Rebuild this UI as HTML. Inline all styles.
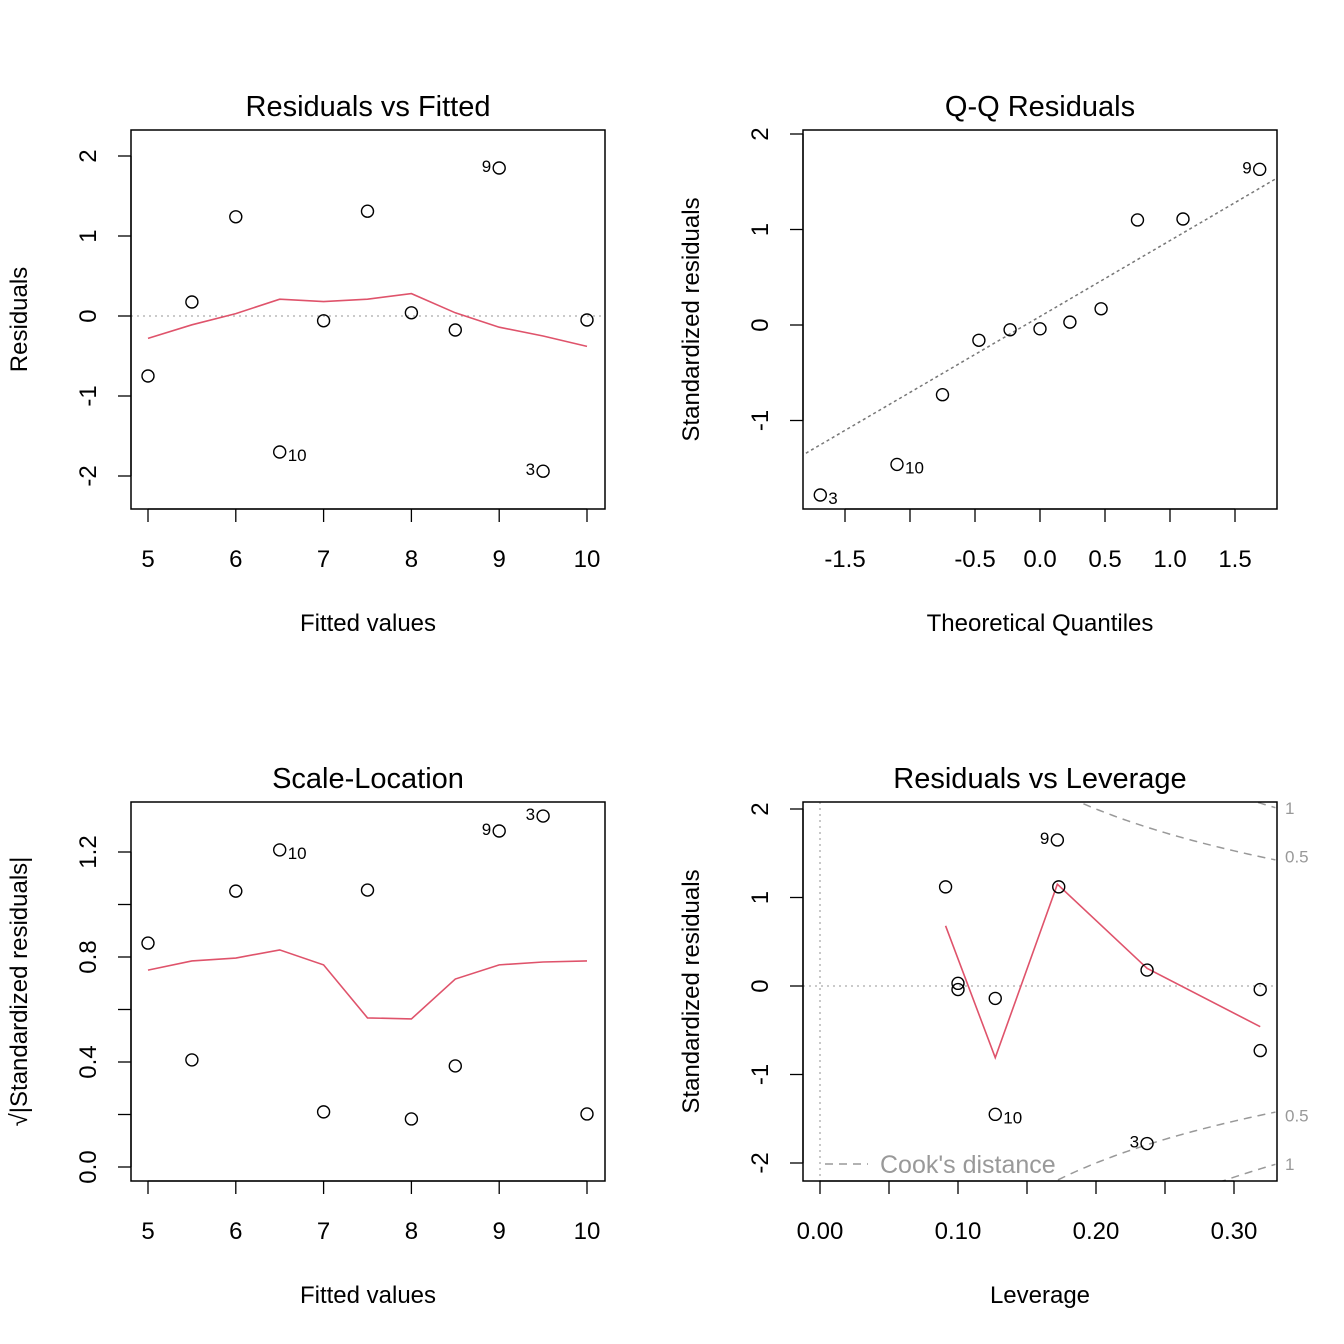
<!DOCTYPE html>
<html><head><meta charset="utf-8"><style>
html,body{margin:0;padding:0;background:#fff}
svg{display:block;font-family:"Liberation Sans",sans-serif}
</style></head><body>
<svg id="c" width="1344" height="1344" viewBox="0 0 1344 1344" xmlns="http://www.w3.org/2000/svg"></svg>
<script>
// Panel 1: Residuals vs Fitted
const fitted = [5,5.5,6,6.5,7,7.5,8,8.5,9,9.5,10];
const resid = [-0.75,0.175,1.24,-1.70,-0.06,1.31,0.04,-0.175,1.85,-1.94,-0.05];
const residLabels = ['','','','10','','','','','9','3',''];
const residSmooth = [-0.28,-0.11,0.03,0.21,0.18,0.21,0.28,0.04,-0.14,-0.25,-0.38];
// Panel 2: Q-Q
const theoQ = [-1.69,-1.10,-0.75,-0.47,-0.23,0,0.23,0.47,0.75,1.10,1.69];
const stdResSorted = [-1.78,-1.46,-0.73,-0.16,-0.05,-0.04,0.03,0.17,1.10,1.11,1.63];
const qqLabels = ['3','10','','','','','','','','','9'];
const qqLine = [0.795,0.089];
// Panel 3: Scale-Location
const sqrtStdRes = [0.853,0.408,1.051,1.208,0.21,1.055,0.183,0.385,1.28,1.337,0.202];
const slLabels = ['','','','10','','','','','9','3',''];
const slSmooth = [0.75,0.785,0.796,0.827,0.77,0.568,0.564,0.716,0.77,0.781,0.785];
// Panel 4: Residuals vs Leverage
const leverage = [0.091,0.100,0.100,0.127,0.127,0.172,0.173,0.237,0.237,0.319,0.319];
const levStdRes = [1.12,0.03,-0.04,-0.14,-1.45,1.65,1.12,0.18,-1.78,-0.04,-0.73];
const levLabels = ['','','','','10','9','','','3','',''];
const levSmoothX = [0.091,0.127,0.172,0.237,0.319];
const levSmoothY = [0.68,-0.81,1.15,0.20,-0.46];
const cookLevels = [0.5,1];

const NS='http://www.w3.org/2000/svg';
const svg=document.getElementById('c');
function el(tag,attrs,parent){const e=document.createElementNS(NS,tag);for(const k in attrs)e.setAttribute(k,attrs[k]);(parent||svg).appendChild(e);return e;}
function txt(s,x,y,attrs,parent){const e=el('text',Object.assign({x:x,y:y},attrs),parent);e.textContent=s;return e;}

function panel(o){
  const g=el('g',{});
  
  
  const X=v=>o.px0+(v-o.xv0)*o.xs, Y=v=>o.py0-(v-o.yv0)*o.ys;
  const cid='clip'+o.name;
  const cp=el('clipPath',{id:cid},g);el('rect',{x:o.L,y:o.T,width:o.R-o.L,height:o.B-o.T},cp);
  const inner=el('g',{'clip-path':'url(#'+cid+')'},g);
  o.X=X;o.Y=Y;o.inner=inner;o.g=g;
  if(o.pre)o.pre(o);
  const box=el('rect',{x:o.L,y:o.T,width:o.R-o.L,height:o.B-o.T,fill:'none',stroke:'#000','stroke-width':1.5},g);
  
  o.xt.forEach((t,i)=>{const x=X(t);el('line',{x1:x,x2:x,y1:o.B,y2:o.B+13,stroke:'#000','stroke-width':1.3},g);
    if(o.xl[i]!==''){const e=txt(o.xl[i],x,o.B+58,{'font-size':24,'text-anchor':'middle'},g);}});
  el('line',{x1:X(o.xt[0]),x2:X(o.xt[o.xt.length-1]),y1:o.B,y2:o.B,stroke:'#000','stroke-width':1.3},g);
  o.yt.forEach((t,i)=>{const y=Y(t);el('line',{x1:o.L,x2:o.L-13,y1:y,y2:y,stroke:'#000','stroke-width':1.3},g);
    if(o.yl[i]!==''){const e=txt(o.yl[i],o.L-35,y,{'font-size':24,'text-anchor':'middle',transform:'rotate(-90 '+(o.L-35)+' '+y+')'},g);}});
  el('line',{x1:o.L,x2:o.L,y1:Y(o.yt[0]),y2:Y(o.yt[o.yt.length-1]),stroke:'#000','stroke-width':1.3},g);
  const cx=(o.L+o.R)/2;
  const t1=txt(o.title,cx,o.T-14,{'font-size':29,'text-anchor':'middle'},g);
  const t2=txt(o.xtitle,cx,o.B+122,{'font-size':24,'text-anchor':'middle'},g);
  const yc=(o.T+o.B)/2,yx=o.L-104;
  const t3=txt(o.ytitle,yx,yc,{'font-size':24,'text-anchor':'middle',transform:'rotate(-90 '+yx+' '+yc+')'},g);
  o.xs_.forEach((xv,i)=>{const c=el('circle',{cx:X(xv),cy:Y(o.ys_[i]),r:6,fill:'none',stroke:'#000','stroke-width':1.4},g);
    
    const lb=o.labs[i];if(lb){const left=X(xv)>(o.L+o.R)/2;const e=txt(lb,left?X(xv)-8:X(xv)+8,Y(o.ys_[i])+(left?4:9),{'font-size':17,'text-anchor':left?'end':'start'},g);}});
  if(o.sx){const d=o.sx.map((v,i)=>(i?'L':'M')+X(v)+' '+Y(o.sy[i])).join(' ');const p=el('path',{d:d,fill:'none',stroke:'#DF536B','stroke-width':1.6},inner);}
  return o;
}
const fx={px0:148,xv0:5,xs:87.8};
panel(Object.assign({name:'residuals-vs-fitted',L:131,R:605,T:130,B:509,py0:316,yv0:0,ys:80,
  xt:[5,6,7,8,9,10],xl:['5','6','7','8','9','10'],yt:[-2,-1,0,1,2],yl:['-2','-1','0','1','2'],
  title:'Residuals vs Fitted',xtitle:'Fitted values',ytitle:'Residuals',xs_:fitted,ys_:resid,labs:residLabels,
  sx:fitted,sy:residSmooth,
  pre:o=>{el('line',{x1:o.L,x2:o.R,y1:o.Y(0),y2:o.Y(0),stroke:'#aaa','stroke-width':1.3,'stroke-dasharray':'2,4'},o.inner);}},fx));
panel({name:'qq-residuals',L:803,R:1277,T:130,B:509,px0:1040,xv0:0,xs:130,py0:325,yv0:0,ys:95.5,
  xt:[-1.5,-1,-0.5,0,0.5,1,1.5],xl:['-1.5','','-0.5','0.0','0.5','1.0','1.5'],yt:[-1,0,1,2],yl:['-1','0','1','2'],
  title:'Q-Q Residuals',xtitle:'Theoretical Quantiles',ytitle:'Standardized residuals',xs_:theoQ,ys_:stdResSorted,labs:qqLabels,
  pre:o=>{const a=-2,b=2;const l=el('line',{x1:o.X(a),x2:o.X(b),y1:o.Y(qqLine[0]*a+qqLine[1]),y2:o.Y(qqLine[0]*b+qqLine[1]),stroke:'#777','stroke-width':1.5,'stroke-dasharray':'3,3'},o.inner);}});
panel(Object.assign({name:'scale-location',L:131,R:605,T:802,B:1181,py0:1167,yv0:0,ys:262.5,
  xt:[5,6,7,8,9,10],xl:['5','6','7','8','9','10'],yt:[0,0.2,0.4,0.6,0.8,1,1.2],yl:['0.0','','0.4','','0.8','','1.2'],
  title:'Scale-Location',xtitle:'Fitted values',ytitle:'√|Standardized residuals|',xs_:fitted,ys_:sqrtStdRes,labs:slLabels,
  sx:fitted,sy:slSmooth},fx));
panel({name:'residuals-vs-leverage',L:803,R:1277,T:802,B:1181,px0:820,xv0:0,xs:1380,py0:986,yv0:0,ys:88.5,
  xt:[0,0.05,0.1,0.15,0.2,0.25,0.3],xl:['0.00','','0.10','','0.20','','0.30'],yt:[-2,-1,0,1,2],yl:['-2','-1','0','1','2'],
  title:'Residuals vs Leverage',xtitle:'Leverage',ytitle:'Standardized residuals',xs_:leverage,ys_:levStdRes,labs:levLabels,
  sx:levSmoothX,sy:levSmoothY,
  pre:o=>{
    el('line',{x1:o.L,x2:o.R,y1:o.Y(0),y2:o.Y(0),stroke:'#aaa','stroke-width':1.3,'stroke-dasharray':'2,4'},o.inner);
    el('line',{x1:o.X(0),x2:o.X(0),y1:o.T,y2:o.B,stroke:'#aaa','stroke-width':1.3,'stroke-dasharray':'2,4'},o.inner);
    cookLevels.forEach(c=>{[1,-1].forEach(s=>{let d='';for(let i=0;i<=100;i++){const h=0.08+i*(0.33-0.08)/100;const y=s*Math.sqrt(c*2*(1-h)/h);d+=(i?'L':'M')+o.X(h)+' '+o.Y(y);}
      const p=el('path',{d:d,fill:'none',stroke:'#999','stroke-width':1.5,'stroke-dasharray':'8,6'},o.inner);
      const yl=s*Math.sqrt(c*2*(1-0.319)/0.319);const yy=Math.max(o.T+6,Math.min(o.B-17,o.Y(yl)));
      const t=txt(c===1?'1':'0.5',o.R+8,yy+6,{'font-size':17,fill:'#999'},o.g);});});
    el('line',{x1:825,x2:868,y1:1164,y2:1164,stroke:'#999','stroke-width':1.5,'stroke-dasharray':'8,6'},o.g);
    const lt=txt("Cook's distance",880,1173,{'font-size':25,fill:'#999'},o.g);
  }});
</script>
</body></html>
